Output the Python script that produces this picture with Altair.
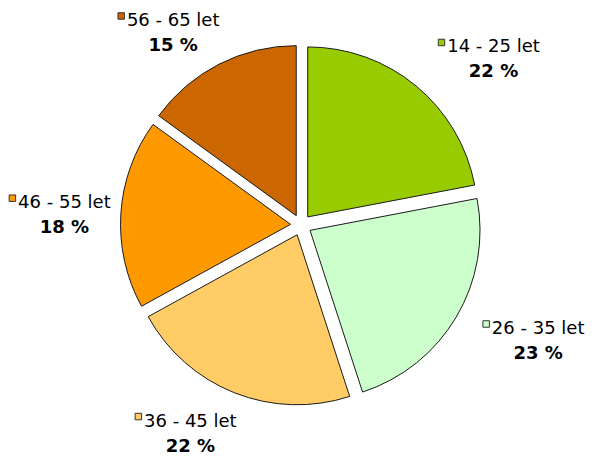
import altair as alt
import pandas as pd

# ---- data ----
categories = ["14 - 25 let", "26 - 35 let", "36 - 45 let", "46 - 55 let", "56 - 65 let"]
values = [22, 23, 22, 18, 15]
colors = ["#99CC00", "#CCFFCC", "#FFCC66", "#FF9900", "#CC6600"]

df = pd.DataFrame({"cat": categories, "val": values, "order": list(range(len(values)))})

# ---- layout / style parameters ----
W, H = 594, 459
CX, CY = 301, 225          # pie centre (px)
R = 170                    # pie radius
EXPLODE = 10.5             # slice offset
LCX, LCY = 310, 229        # label ellipse centre
LA, LB = 200, 220          # label ellipse radii
FONT = "DejaVu Sans"
FS = 18

base = (
    alt.Chart(df)
    .transform_window(cum="sum(val)", sort=[alt.SortField("order", order="ascending")], frame=[None, 0])
    .transform_joinaggregate(total="sum(val)")
    .transform_calculate(
        t0="2*PI*(datum.cum - datum.val)/datum.total",
        t1="2*PI*datum.cum/datum.total",
    )
    .transform_calculate(mid="(datum.t0 + datum.t1)/2")
    .transform_calculate(
        cx=f"{CX} + {EXPLODE}*sin(datum.mid)",
        cy=f"{CY} - {EXPLODE}*cos(datum.mid)",
        side="sin(datum.mid) >= 0 ? 1 : -1",
        xe=f"{LCX} + {LA}*sin(datum.mid)",
        by=f"{LCY} - {LB}*cos(datum.mid)",
        pct="round(100*datum.val/datum.total) + ' %'",
    )
    .transform_calculate(
        name_x="datum.side > 0 ? datum.xe + 56 : datum.xe - 46",
        sq_x="datum.side > 0 ? datum.xe + 4 : datum.xe - 98",
        name_y="datum.by - 12",
        pct_y="datum.by + 13",
        sq_y="datum.by - 17",
    )
)

fill = alt.Fill("cat:N", scale=alt.Scale(domain=categories, range=colors), legend=None)

arcs = base.mark_arc(outerRadius=R, stroke="#1a1a1a", strokeWidth=1).encode(
    theta=alt.Theta("t0:Q", scale=None),
    theta2="t1:Q",
    x=alt.X("cx:Q", scale=None),
    y=alt.Y("cy:Q", scale=None),
    fill=fill,
)

squares = base.mark_square(size=42, stroke="#333333", strokeWidth=1, opacity=1).encode(
    x=alt.X("sq_x:Q", scale=None),
    y=alt.Y("sq_y:Q", scale=None),
    fill=fill,
)

names = base.mark_text(font=FONT, fontSize=FS, align="center", baseline="middle", color="black").encode(
    x=alt.X("name_x:Q", scale=None),
    y=alt.Y("name_y:Q", scale=None),
    text="cat:N",
)

pcts = base.mark_text(font=FONT, fontSize=FS, fontWeight="bold", align="center", baseline="middle", color="black").encode(
    x=alt.X("name_x:Q", scale=None),
    y=alt.Y("pct_y:Q", scale=None),
    text="pct:N",
)

chart = (
    alt.layer(arcs, squares, names, pcts)
    .properties(width=W, height=H, autosize="none", padding=0, background="white")
    .configure_view(stroke=None)
)

chart.save("out.html", embed_options={"renderer": "svg", "actions": False})
